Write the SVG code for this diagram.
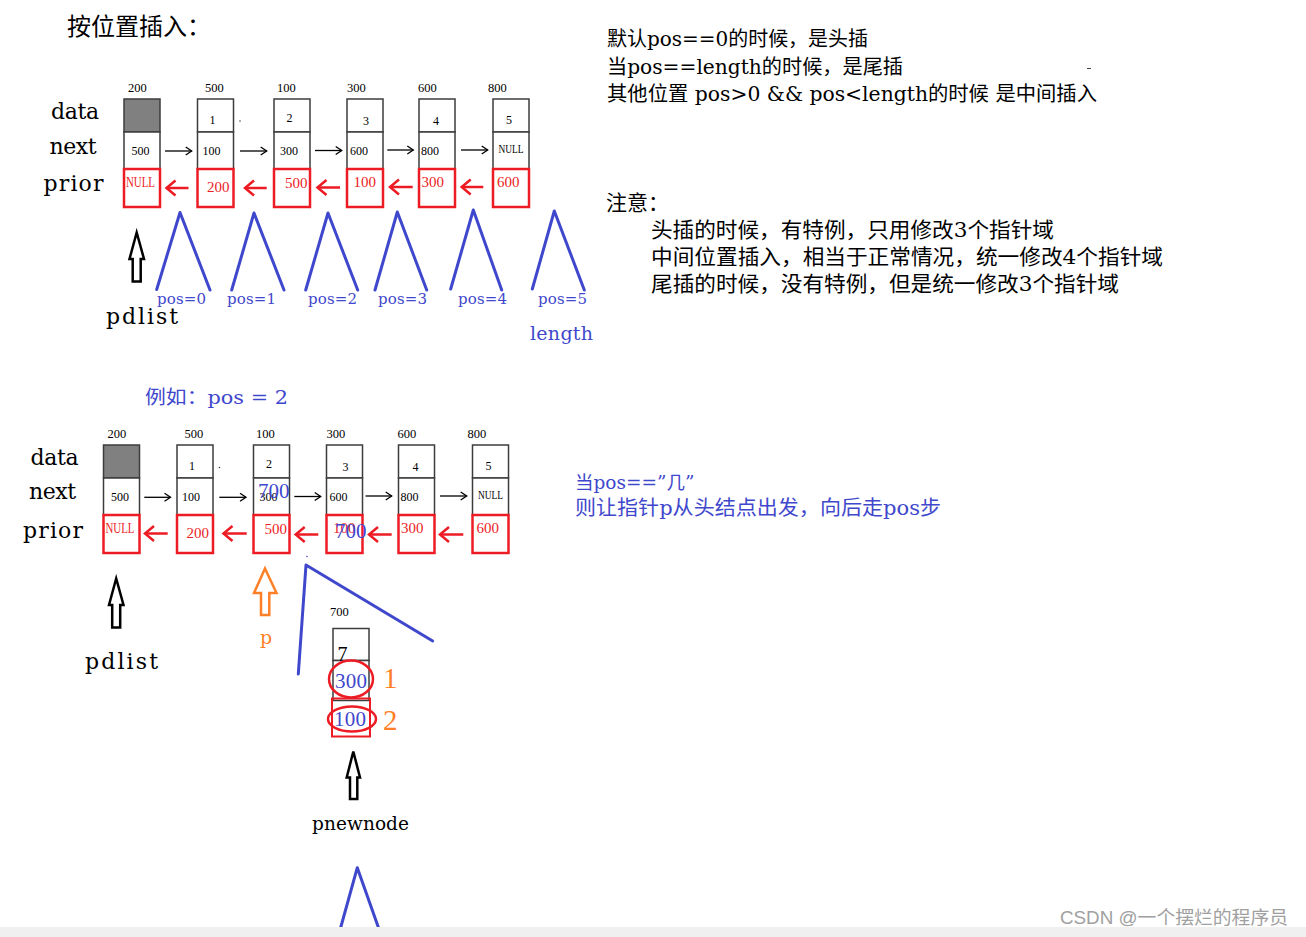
<svg xmlns="http://www.w3.org/2000/svg" width="1306" height="937" viewBox="0 0 1306 937">
<defs>
<style>
.box{fill:#fff;stroke:#3c3c3c;stroke-width:1.5}
.head{fill:#808080;stroke:#3c3c3c;stroke-width:1.5}
.rbox{fill:none;stroke:#ed1c24;stroke-width:2.5}
.num{font-family:"Liberation Serif",serif;font-size:12px;fill:#000}
.lbl{font-family:"Liberation Serif",serif;font-size:12.5px;fill:#000}
.rnum{font-family:"Liberation Serif",serif;font-size:15px;fill:#ed1c24}
.rnull{font-family:"Liberation Serif",serif;font-size:14px;fill:#ed1c24}
.big{font-family:"DejaVu Serif",serif;font-size:22px;fill:#000}
.bnum{font-family:"Liberation Serif",serif;font-size:21px;fill:#3f48cc}
.pos{font-family:"DejaVu Serif",serif;font-size:15px;fill:#3f48cc}
.cn{font-family:"Noto Sans CJK SC",sans-serif;fill:#000}
.cnb{font-family:"Noto Sans CJK SC",sans-serif;fill:#3f48cc}
.lat{font-family:"DejaVu Serif",serif}
.tri{fill:none;stroke:#3f48cc;stroke-width:3;stroke-linecap:round;stroke-linejoin:round}
.karr{fill:none;stroke:#000;stroke-width:1.3;marker-end:url(#kh)}
.rarr{fill:none;stroke:#ed1c24;stroke-width:2.5;marker-end:url(#rh)}
.hollow{fill:#fff;stroke:#000;stroke-width:2.5;stroke-linejoin:miter}
</style>
<marker id="kh" markerUnits="userSpaceOnUse" viewBox="-10 -10 20 20" markerWidth="20" markerHeight="20" refX="0" refY="0" orient="auto" overflow="visible">
<path d="M-6,-4 L0,0 L-6,4" fill="none" stroke="#000" stroke-width="1.3"/>
</marker>
<marker id="rh" markerUnits="userSpaceOnUse" viewBox="-12 -12 24 24" markerWidth="24" markerHeight="24" refX="0" refY="0" orient="auto" overflow="visible">
<path d="M-9,-7.5 L0,0 L-9,7.5" fill="none" stroke="#ed1c24" stroke-width="2.5"/>
</marker>
</defs>
<rect x="0" y="0" width="1306" height="937" fill="#fff"/>

<!-- title and notes -->
<g id="title">
<text class="cn" x="67" y="35" font-size="24">按位置插入：</text>
</g>
<g id="notes-top">
<text class="cn" x="607" y="46" font-size="20" textLength="261" lengthAdjust="spacingAndGlyphs">默认<tspan class="lat">pos==0</tspan>的时候，是头插</text>
<text class="cn" x="607" y="74" font-size="20" textLength="296" lengthAdjust="spacingAndGlyphs">当<tspan class="lat">pos==length</tspan>的时候，是尾插</text>
<text class="cn" x="607" y="101" font-size="20" textLength="490" lengthAdjust="spacingAndGlyphs">其他位置<tspan class="lat"> pos&gt;0 &amp;&amp; pos&lt;length</tspan>的时候<tspan class="lat"> </tspan>是中间插入</text>
<line x1="1087" y1="68.5" x2="1091" y2="68.5" stroke="#444" stroke-width="1"/>
</g>
<g id="notes-attention">
<text class="cn" x="606" y="210" font-size="21">注意：</text>
<text class="cn" x="651" y="237" font-size="21" textLength="403" lengthAdjust="spacingAndGlyphs">头插的时候，有特例，只用修改<tspan class="lat">3</tspan>个指针域</text>
<text class="cn" x="651" y="264" font-size="21" textLength="512" lengthAdjust="spacingAndGlyphs">中间位置插入，相当于正常情况，统一修改<tspan class="lat">4</tspan>个指针域</text>
<text class="cn" x="651" y="291" font-size="21" textLength="468" lengthAdjust="spacingAndGlyphs">尾插的时候，没有特例，但是统一修改<tspan class="lat">3</tspan>个指针域</text>
</g>
<g id="notes-blue">
<text class="cnb" x="575" y="489" font-size="18.5">当<tspan class="lat">pos==”</tspan>几<tspan class="lat">”</tspan></text>
<text class="cnb" x="575" y="515" font-size="20" textLength="366" lengthAdjust="spacingAndGlyphs">则让指针<tspan class="lat">p</tspan>从头结点出发，向后走<tspan class="lat">pos</tspan>步</text>
<text class="cnb" x="145" y="404" font-size="19" textLength="143" lengthAdjust="spacingAndGlyphs">例如：<tspan class="lat">pos = 2</tspan></text>
</g>

<!-- row labels -->
<g id="labels-top">
<text class="big" x="51" y="119" textLength="48">data</text>
<text class="big" x="49.5" y="153.5" textLength="47">next</text>
<text class="big" x="43.5" y="191" textLength="60">prior</text>
<text class="big" x="106" y="324" textLength="72">pdlist</text>
</g>
<g id="labels-bottom">
<text class="big" x="30.5" y="464.5" textLength="48">data</text>
<text class="big" x="29" y="499" textLength="47">next</text>
<text class="big" x="23" y="537.5" textLength="60">prior</text>
<text class="big" x="85" y="669" textLength="73">pdlist</text>
<text class="big" x="312" y="830" style="font-size:18.5px" textLength="97">pnewnode</text>
<text x="260" y="644" font-family="DejaVu Serif,serif" font-size="19" fill="#ff7f27">p</text>
</g>

<!-- top list -->
<g id="top-node-200" transform="translate(124,99)">
<text class="lbl" x="4" y="-7">200</text>
<rect class="head" x="0" y="0" width="36" height="33"/>
<rect class="box" x="0" y="33" width="36" height="37"/>
<rect class="rbox" x="0" y="70" width="36" height="38"/>
<text class="num" x="7.5" y="56">500</text>
<text class="rnull" x="2" y="88" textLength="29" lengthAdjust="spacingAndGlyphs">NULL</text>
</g>
<g id="top-node-500" transform="translate(197.5,99)">
<text class="lbl" x="7.5" y="-7">500</text>
<rect class="box" x="0" y="0" width="36" height="33"/>
<rect class="box" x="0" y="33" width="36" height="37"/>
<rect class="rbox" x="0" y="70" width="36" height="38"/>
<text class="num" x="12" y="25">1</text>
<text class="num" x="5" y="56">100</text>
<text class="rnum" x="9.5" y="92.5">200</text>
</g>
<g id="top-node-100" transform="translate(274,99)">
<text class="lbl" x="3" y="-7">100</text>
<rect class="box" x="0" y="0" width="36" height="33"/>
<rect class="box" x="0" y="33" width="36" height="37"/>
<rect class="rbox" x="0" y="70" width="36" height="38"/>
<text class="num" x="12.5" y="23">2</text>
<text class="num" x="6" y="56">300</text>
<text class="rnum" x="11" y="88.5">500</text>
</g>
<g id="top-node-300" transform="translate(347,99)">
<text class="lbl" x="0" y="-7">300</text>
<rect class="box" x="0" y="0" width="36" height="33"/>
<rect class="box" x="0" y="33" width="36" height="37"/>
<rect class="rbox" x="0" y="70" width="36" height="38"/>
<text class="num" x="16" y="26">3</text>
<text class="num" x="3" y="56">600</text>
<text class="rnum" x="6.5" y="88">100</text>
</g>
<g id="top-node-600" transform="translate(419,99)">
<text class="lbl" x="-1" y="-7">600</text>
<rect class="box" x="0" y="0" width="36" height="33"/>
<rect class="box" x="0" y="33" width="36" height="37"/>
<rect class="rbox" x="0" y="70" width="36" height="38"/>
<text class="num" x="14" y="26">4</text>
<text class="num" x="2" y="56">800</text>
<text class="rnum" x="2.5" y="88">300</text>
</g>
<g id="top-node-800" transform="translate(493,99)">
<text class="lbl" x="-5" y="-7">800</text>
<rect class="box" x="0" y="0" width="36" height="33"/>
<rect class="box" x="0" y="33" width="36" height="37"/>
<rect class="rbox" x="0" y="70" width="36" height="38"/>
<text class="num" x="13" y="25">5</text>
<text class="num" x="5.5" y="53.7" textLength="25" lengthAdjust="spacingAndGlyphs">NULL</text>
<text class="rnum" x="4" y="88">600</text>
</g>

<!-- bottom list -->
<g id="bottom-node-200" transform="translate(103.5,445)">
<text class="lbl" x="4" y="-7.5">200</text>
<rect class="head" x="0" y="0" width="36" height="33"/>
<rect class="box" x="0" y="33" width="36" height="37"/>
<rect class="rbox" x="0" y="70" width="36" height="38"/>
<text class="num" x="7.5" y="56">500</text>
<text class="rnull" x="2" y="88" textLength="29" lengthAdjust="spacingAndGlyphs">NULL</text>
</g>
<g id="bottom-node-500" transform="translate(177,445)">
<text class="lbl" x="7.5" y="-7.5">500</text>
<rect class="box" x="0" y="0" width="36" height="33"/>
<rect class="box" x="0" y="33" width="36" height="37"/>
<rect class="rbox" x="0" y="70" width="36" height="38"/>
<text class="num" x="12" y="25">1</text>
<text class="num" x="5" y="56">100</text>
<text class="rnum" x="9.5" y="92.5">200</text>
</g>
<g id="bottom-node-100" transform="translate(253.5,445)">
<text class="lbl" x="2.5" y="-7.5">100</text>
<rect class="box" x="0" y="0" width="36" height="33"/>
<rect class="box" x="0" y="33" width="36" height="37"/>
<rect class="rbox" x="0" y="70" width="36" height="38"/>
<text class="num" x="12.5" y="23">2</text>
<text class="num" x="6" y="56">300</text>
<text class="bnum" x="4.5" y="53">700</text>
<text class="rnum" x="11" y="88.5">500</text>
</g>
<g id="bottom-node-300" transform="translate(326.5,445)">
<text class="lbl" x="0" y="-7.5">300</text>
<rect class="box" x="0" y="0" width="36" height="33"/>
<rect class="box" x="0" y="33" width="36" height="37"/>
<rect class="rbox" x="0" y="70" width="36" height="38"/>
<text class="num" x="16" y="26">3</text>
<text class="num" x="3" y="56">600</text>
<text class="rnum" x="6.5" y="88">100</text>
<text class="bnum" x="8.5" y="93">700</text>
</g>
<g id="bottom-node-600" transform="translate(398.5,445)">
<text class="lbl" x="-1" y="-7.5">600</text>
<rect class="box" x="0" y="0" width="36" height="33"/>
<rect class="box" x="0" y="33" width="36" height="37"/>
<rect class="rbox" x="0" y="70" width="36" height="38"/>
<text class="num" x="14" y="26">4</text>
<text class="num" x="2" y="56">800</text>
<text class="rnum" x="2.5" y="88">300</text>
</g>
<g id="bottom-node-800" transform="translate(472.5,445)">
<text class="lbl" x="-5" y="-7.5">800</text>
<rect class="box" x="0" y="0" width="36" height="33"/>
<rect class="box" x="0" y="33" width="36" height="37"/>
<rect class="rbox" x="0" y="70" width="36" height="38"/>
<text class="num" x="13" y="25">5</text>
<text class="num" x="5.5" y="53.7" textLength="25" lengthAdjust="spacingAndGlyphs">NULL</text>
<text class="rnum" x="4" y="88">600</text>
</g>

<!-- new node -->
<g id="new-node-700" transform="translate(333,628.5)">
<text class="lbl" x="-3" y="-12.5">700</text>
<rect class="box" x="0" y="0" width="36" height="32"/>
<rect class="box" x="0" y="32" width="36" height="40"/>
<rect x="-1" y="70" width="38" height="38" fill="none" stroke="#ed1c24" stroke-width="2"/>
<text x="4.5" y="32" font-family="Liberation Serif,serif" font-size="20" fill="#000">7</text>
<ellipse cx="18" cy="50.5" rx="22" ry="18.5" fill="none" stroke="#ed1c24" stroke-width="2.5"/>
<ellipse cx="19" cy="90.5" rx="24" ry="12.5" fill="none" stroke="#ed1c24" stroke-width="2.5"/>
<text x="2" y="59.5" font-family="Liberation Serif,serif" font-size="21" fill="#3f48cc" textLength="32">300</text>
<text x="1" y="97.5" font-family="Liberation Serif,serif" font-size="21" fill="#3f48cc" textLength="32">100</text>
<text x="50" y="59.5" font-family="Liberation Serif,serif" font-size="29" fill="#ff7f27">1</text>
<text x="50" y="101.5" font-family="Liberation Serif,serif" font-size="29" fill="#ff7f27">2</text>
</g>

<!-- connectors -->
<g id="connectors">
<line class="karr" x1="165" y1="151" x2="191.7" y2="151"/>
<line class="karr" x1="240" y1="151" x2="266.7" y2="151"/>
<line class="karr" x1="315" y1="150.5" x2="341.7" y2="150.5"/>
<line class="karr" x1="387.3" y1="150" x2="413.3" y2="150"/>
<line class="karr" x1="461" y1="150" x2="487.7" y2="150"/>
<line class="rarr" x1="188.5" y1="188" x2="166.5" y2="188"/>
<line class="rarr" x1="266.7" y1="188" x2="245" y2="188"/>
<line class="rarr" x1="340" y1="187.5" x2="317.5" y2="187.5"/>
<line class="rarr" x1="412.7" y1="187" x2="390" y2="187"/>
<line class="rarr" x1="483.3" y1="187" x2="461.7" y2="187"/>

<line class="karr" x1="144.3" y1="497.3" x2="170.5" y2="497.3"/>
<line class="karr" x1="219.3" y1="497.3" x2="246" y2="497.3"/>
<line class="karr" x1="294.3" y1="496.5" x2="320.7" y2="496.5"/>
<line class="karr" x1="365.5" y1="496" x2="391.7" y2="496"/>
<line class="karr" x1="440" y1="496" x2="466.7" y2="496"/>
<line class="rarr" x1="167.7" y1="533.5" x2="145" y2="533.5"/>
<line class="rarr" x1="246.7" y1="533.5" x2="223.5" y2="533.5"/>
<line class="rarr" x1="318.3" y1="534.5" x2="295.7" y2="534.5"/>
<line class="rarr" x1="391.7" y1="534.5" x2="369" y2="534.5"/>
<line class="rarr" x1="463.3" y1="534.5" x2="440" y2="534.5"/>

<path class="hollow" d="M136.7,232.5 L144,259 L140.7,259 L140.7,281.5 L132.7,281.5 L132.7,259 L129.5,259 Z"/>
<path class="hollow" d="M116.2,578.5 L123.5,605 L120.2,605 L120.2,627.5 L112.2,627.5 L112.2,605 L109,605 Z"/>
<path class="hollow" d="M353.3,751.5 L360,777.5 L357.3,777.5 L357.3,799 L350,799 L350,777.5 L346.7,777.5 Z"/>
<path d="M265,568.5 L276.5,593 L269.3,593 L269.3,615 L261,615 L261,593 L254,593 Z" fill="#fff" stroke="#ff7f27" stroke-width="2.5"/>
</g>

<!-- position markers -->
<g id="pos-markers">
<polyline class="tri" points="156.7,289.5 180,212.5 210,290"/>
<polyline class="tri" points="231.7,290 254,213 284,290"/>
<polyline class="tri" points="305.7,290 328,213 357.7,290"/>
<polyline class="tri" points="375,290 397.3,212 426.7,290"/>
<polyline class="tri" points="450.7,289 473.3,210 501.7,290"/>
<polyline class="tri" points="532.3,289 554.3,211 584.3,290"/>
<polyline class="tri" points="298.3,674 306,565 432.7,641"/>
<polyline class="tri" points="340,930 357.3,867.7 379.3,930"/>
<text class="pos" x="157" y="304" textLength="49">pos=0</text>
<text class="pos" x="227" y="304" textLength="49">pos=1</text>
<text class="pos" x="308" y="304" textLength="49">pos=2</text>
<text class="pos" x="378" y="304" textLength="49">pos=3</text>
<text class="pos" x="458" y="304" textLength="49">pos=4</text>
<text class="pos" x="538" y="304" textLength="49">pos=5</text>
<text class="pos" x="530" y="339.5" style="font-size:19px" textLength="63">length</text>
<circle cx="240" cy="121" r="0.8" fill="#444"/>
<circle cx="219.5" cy="467.5" r="0.8" fill="#444"/>
<circle cx="307" cy="556.5" r="0.8" fill="#3f48cc"/>
</g>
<rect x="0" y="927" width="1306" height="10" fill="#f0f0f0"/>

<g id="watermark">
<text x="1060" y="924" font-family="Liberation Sans,Noto Sans CJK SC,sans-serif" font-size="18.5" fill="#a0a0a0" textLength="228" lengthAdjust="spacingAndGlyphs">CSDN @一个摆烂的程序员</text>
</g>
</svg>
